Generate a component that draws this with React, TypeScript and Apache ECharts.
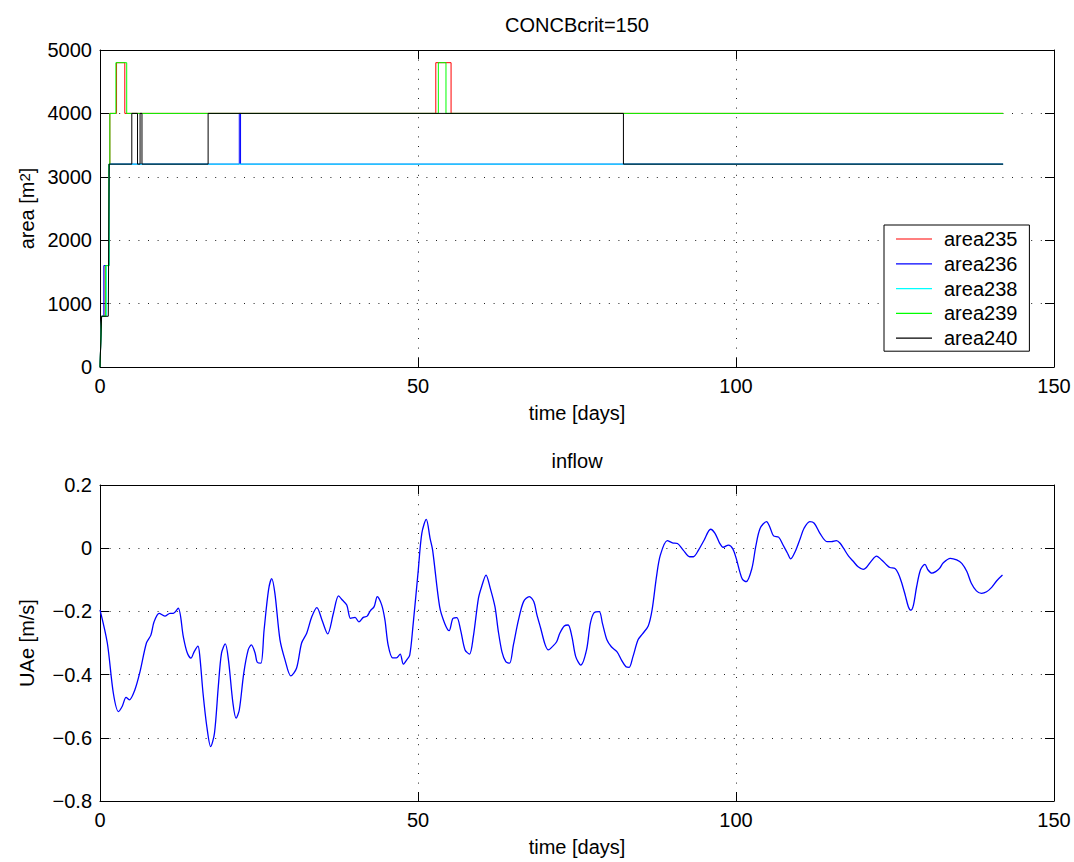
import React, { useEffect, useRef } from "react";
import * as echarts from "echarts";

// ---- area series: breakpoints of each step curve (time in days, area in m²) ----
const area235T = [0, 0.25, 0.8, 0.8, 1.4, 1.4, 1.55, 1.55, 2.6, 2.6, 3.9, 3.9, 52.8, 52.8, 55.2, 55.2, 142];
const area235V = [0, 800, 800, 1600, 1600, 3200, 3200, 4000, 4000, 4800, 4800, 4000, 4000, 4800, 4800, 4000, 4000];

const area236T = [0, 0.25, 0.6, 0.6, 1.4, 1.4, 21.9, 21.9, 22.1, 22.1, 142];
const area236V = [0, 800, 800, 1600, 1600, 3200, 3200, 4000, 4000, 3200, 3200];

const area238T = [0, 0.25, 1.0, 1.0, 1.45, 1.45, 142];
const area238V = [0, 800, 800, 1600, 1600, 3200, 3200];

const area239T = [0, 0.25, 0.9, 0.9, 1.4, 1.4, 1.55, 1.55, 2.5, 2.5, 4.2, 4.2, 53.2, 53.2, 54.4, 54.4, 142];
const area239V = [0, 800, 800, 1600, 1600, 3200, 3200, 4000, 4000, 4800, 4800, 4000, 4000, 4800, 4800, 4000, 4000];

const area240T = [0, 0.25, 1.3, 1.45, 5.0, 5.0, 5.9, 5.9, 6.3, 6.3, 6.6, 6.6, 17.0, 17.0, 82.3, 82.3, 142];
const area240V = [0, 800, 800, 3200, 3200, 4000, 4000, 3200, 3200, 4000, 4000, 3200, 3200, 4000, 4000, 3200, 3200];

const areaNames = ["area235", "area236", "area238", "area239", "area240"];
const areaColors = ["#ff0000", "#0000ff", "#00ffff", "#00ff00", "#000000"];

// ---- inflow series (time in days, UAe in m/s) ----
const inflowT = [
  0, 1.15, 2.1, 2.9, 3.5, 4.1, 4.6, 5.5, 6.3, 7.3, 8.0, 8.5, 9.3, 10.2, 11.0, 11.5, 12.3, 13.1, 13.7, 14.3,
  14.8, 15.4, 15.7, 16.2, 16.8, 17.4, 18.0, 18.6, 19.1, 19.7, 20.2, 20.9, 21.4, 21.9, 22.6, 23.3, 23.8, 24.4,
  24.7, 25.3, 25.8, 26.5, 27.0, 27.5, 28.3, 29.1, 30.0, 30.9, 31.7, 32.5, 33.3, 34.1, 34.9, 35.8, 36.7, 37.5,
  38.1, 38.8, 39.4, 40.1, 40.7, 41.4, 42.0, 42.5, 43.1, 43.6, 44.3, 44.8, 45.3, 46.0, 46.6, 47.2, 47.7, 48.2,
  48.7, 49.2, 50.0, 50.6, 51.3, 51.9, 52.3, 53.4, 54.2, 54.9, 55.5, 56.1, 56.7, 57.4, 58.1, 58.7, 59.5, 60.0,
  60.7, 61.3, 62.1, 62.6, 63.2, 63.8, 64.4, 65.0, 65.8, 66.6, 67.5, 68.2, 68.7, 69.3, 70.0, 70.5, 71.2, 71.8,
  72.3, 73.0, 73.6, 74.2, 74.8, 75.6, 76.5, 77.1, 77.7, 78.5, 79.0, 79.7, 80.4, 81.3, 82.0, 82.7, 83.2, 83.8,
  84.6, 85.3, 86.2, 86.8, 87.5, 88.1, 89.2, 90.0, 90.8, 91.7, 92.7, 93.3, 94.1, 95.0, 96.0, 96.7, 97.4, 98.0,
  98.8, 99.5, 100.1, 100.6, 101.0, 101.6, 102.5, 103.1, 103.8, 104.8, 105.3, 105.9, 106.7, 107.4, 108.1,
  108.6, 109.3, 110.1, 110.7, 111.6, 112.3, 113.2, 114.3, 115.0, 115.8, 116.4, 116.9, 117.7, 118.5, 119.2,
  120.0, 120.5, 121.3, 122.1, 122.9, 123.7, 124.2, 125.0, 125.5, 126.0, 126.6, 127.1, 127.5, 127.9, 128.4,
  129.0, 129.7, 130.2, 130.8, 131.4, 132.0, 132.6, 133.7, 134.7, 135.5, 136.3, 137.0, 137.8, 138.6, 139.4,
  140.2, 141.0, 141.9,
];
const inflowV = [
  -0.195, -0.3, -0.459, -0.517, -0.5, -0.472, -0.48, -0.447, -0.39, -0.3, -0.275, -0.233, -0.206, -0.215,
  -0.206, -0.206, -0.19, -0.28, -0.33, -0.348, -0.328, -0.31, -0.343, -0.459, -0.565, -0.628, -0.585, -0.438,
  -0.333, -0.303, -0.354, -0.49, -0.538, -0.512, -0.396, -0.322, -0.306, -0.333, -0.36, -0.364, -0.259,
  -0.132, -0.096, -0.143, -0.29, -0.354, -0.404, -0.38, -0.3, -0.269, -0.217, -0.188, -0.227, -0.271, -0.206,
  -0.151, -0.164, -0.18, -0.222, -0.219, -0.233, -0.219, -0.215, -0.198, -0.185, -0.153, -0.18, -0.227,
  -0.306, -0.347, -0.347, -0.335, -0.367, -0.354, -0.338, -0.248, -0.079, 0.047, 0.091, 0.031, -0.006,
  -0.185, -0.238, -0.261, -0.222, -0.22, -0.259, -0.322, -0.335, -0.28, -0.159, -0.122, -0.085, -0.122,
  -0.185, -0.259, -0.328, -0.359, -0.364, -0.306, -0.227, -0.169, -0.153, -0.169, -0.211, -0.254, -0.306,
  -0.322, -0.31, -0.296, -0.269, -0.246, -0.243, -0.28, -0.343, -0.37, -0.322, -0.238, -0.204, -0.201,
  -0.238, -0.29, -0.312, -0.328, -0.354, -0.375, -0.377, -0.343, -0.29, -0.271, -0.246, -0.196, -0.09,
  -0.022, 0.024, 0.017, 0.015, -0.006, -0.027, -0.027, -0.006, 0.026, 0.06, 0.047, 0.017, 0.003, 0.01,
  -0.002, -0.037, -0.075, -0.098, -0.106, -0.064, 0.005, 0.063, 0.084, 0.068, 0.039, 0.035, 0.01, -0.016,
  -0.034, -0.011, 0.031, 0.063, 0.084, 0.079, 0.047, 0.021, 0.021, 0.024, 0.015, 0.0, -0.025, -0.043, -0.059,
  -0.067, -0.061, -0.04, -0.025, -0.037, -0.053, -0.061, -0.064, -0.079, -0.106, -0.148, -0.185, -0.196,
  -0.18, -0.122, -0.069, -0.051, -0.069, -0.079, -0.074, -0.064, -0.046, -0.032, -0.037, -0.048, -0.074,
  -0.111, -0.135, -0.143, -0.138, -0.124, -0.103, -0.085,
];

const FONT = "'Liberation Sans', Arial, Helvetica, sans-serif";
const FS = 20;

const zip = (t: number[], v: number[]) => t.map((x, i) => [x, v[i]]);

const dotted = { color: "#222", width: 1, type: [1, 8.6] as number[] };
const tick = { show: true, inside: true, length: 9, lineStyle: { color: "#000", width: 1 } };
const axisLine = { show: true, onZero: false, lineStyle: { color: "#000", width: 1 } };
const labelStyle = { color: "#000", fontSize: FS, fontFamily: FONT };

const fmtNum = (v: number) => {
  if (Math.abs(v) < 1e-9) return "0";
  const s = Number.isInteger(Math.round(v * 1000) / 1000) ? String(Math.round(v)) : v.toFixed(1);
  return s.replace("-", "\u2212");
};

function timeAxes(gridIndex: number) {
  return [
    {
      type: "value",
      gridIndex,
      position: "bottom",
      min: 0,
      max: 150,
      interval: 50,
      axisLine,
      axisTick: tick,
      axisLabel: { ...labelStyle, margin: 9, formatter: fmtNum },
      splitLine: { show: true, lineStyle: dotted },
      name: "time [days]",
      nameLocation: "middle",
      nameGap: 36,
      nameTextStyle: { ...labelStyle },
    },
    {
      type: "value",
      gridIndex,
      position: "top",
      min: 0,
      max: 150,
      interval: 50,
      axisLine,
      axisTick: tick,
      axisLabel: { show: false },
      splitLine: { show: false },
    },
  ];
}

function valueAxes(gridIndex: number, min: number, max: number, interval: number, name: string, rich?: any) {
  return [
    {
      type: "value",
      gridIndex,
      position: "left",
      min,
      max,
      interval,
      axisLine,
      axisTick: tick,
      axisLabel: { ...labelStyle, margin: 8, formatter: fmtNum },
      splitLine: { show: true, lineStyle: dotted },
      name,
      nameLocation: "middle",
      nameRotate: 90,
      nameGap: 63,
      nameTextStyle: { ...labelStyle, rich },
    },
    {
      type: "value",
      gridIndex,
      position: "right",
      min,
      max,
      interval,
      axisLine,
      axisTick: tick,
      axisLabel: { show: false },
      splitLine: { show: false },
    },
  ];
}

export default function App() {
  const ref = useRef<HTMLDivElement>(null);

  useEffect(() => {
    if (!ref.current) return;
    const chart = echarts.init(ref.current, undefined, { renderer: "svg" });

    const supRich = {
      base: { fontSize: FS, fontFamily: FONT, color: "#000" },
      sup: { fontSize: 15, fontFamily: FONT, color: "#000", verticalAlign: "top" },
    };

    const areaSeries = [
      zip(area235T, area235V),
      zip(area236T, area236V),
      zip(area238T, area238V),
      zip(area239T, area239V),
      zip(area240T, area240V),
    ].map((data, i) => ({
      type: "line",
      name: areaNames[i],
      xAxisIndex: 0,
      yAxisIndex: 0,
      data,
      symbol: "none",
      showSymbol: false,
      lineStyle: { color: areaColors[i], width: 1 },
      itemStyle: { color: areaColors[i] },
      emphasis: { disabled: true },
    }));

    chart.setOption({
      animation: false,
      backgroundColor: "#fff",
      textStyle: { fontFamily: FONT },
      grid: [
        { left: 100, top: 50, width: 954, height: 317, containLabel: false },
        { left: 100, top: 485, width: 954, height: 316, containLabel: false },
      ],
      xAxis: [...timeAxes(0), ...timeAxes(1)],
      yAxis: [
        ...valueAxes(0, 0, 5000, 1000, "{base|area [m}{sup|2}{base|]}", supRich),
        ...valueAxes(1, -0.8, 0.2, 0.2, "UAe [m/s]"),
      ],
      legend: {
        data: areaNames,
        orient: "vertical",
        left: 884,
        top: 225,
        z: 10,
        padding: [4, 12, 3, 12],
        icon: "rect",
        itemWidth: 36,
        itemHeight: 1.2,
        itemGap: 4.8,
        backgroundColor: "#fff",
        borderColor: "#000",
        borderWidth: 1,
        borderRadius: 0,
        selectedMode: false,
        textStyle: { ...labelStyle, lineHeight: 20, padding: [0, 0, 0, 7] },
      },
      graphic: [
        {
          type: "text",
          x: 577,
          y: 25,
          style: { text: "CONCBcrit=150", fill: "#000", font: `${FS}px ${FONT}`, align: "center", verticalAlign: "middle" },
        },
        {
          type: "text",
          x: 577,
          y: 461,
          style: { text: "inflow", fill: "#000", font: `${FS}px ${FONT}`, align: "center", verticalAlign: "middle" },
        },
      ],
      series: [
        ...areaSeries,
        {
          type: "line",
          name: "UAe",
          xAxisIndex: 2,
          yAxisIndex: 2,
          data: zip(inflowT, inflowV),
          symbol: "none",
          showSymbol: false,
          smooth: 0.3,
          lineStyle: { color: "#0000ff", width: 1.3 },
          emphasis: { disabled: true },
        },
      ],
    });

    return () => chart.dispose();
  }, []);

  return (
    <div
      ref={ref}
      style={{ position: "absolute", left: 0, top: 0, width: 1074, height: 862, background: "#fff" }}
    />
  );
}
